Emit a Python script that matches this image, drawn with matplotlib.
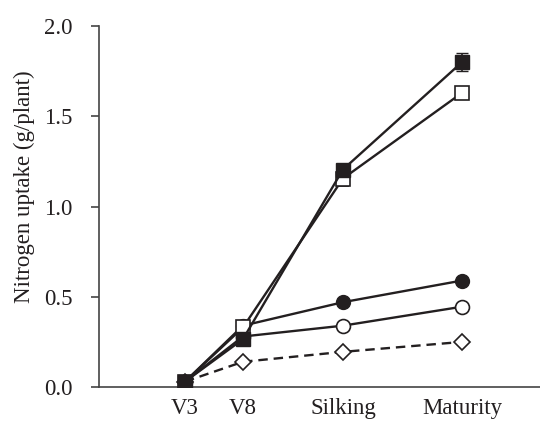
import numpy as np
import matplotlib.pyplot as plt

plt.rcParams['font.family'] = ['Liberation Serif', 'DejaVu Serif']

stages = ["V3", "V8", "Silking", "Maturity"]
days = [29.3, 49, 83, 123.5]

open_diamond = [0.03, 0.14, 0.195, 0.25]
open_circle = [0.03, 0.28, 0.34, 0.445]
filled_circle = [0.03, 0.34, 0.47, 0.59]
open_square = [0.03, 0.33, 1.155, 1.63]
open_square_err = [0.0, 0.0, 0.04, 0.0]
filled_square = [0.03, 0.265, 1.205, 1.80]
filled_square_err = [0.0, 0.0, 0.0, 0.05]

fig = plt.figure(figsize=(5.4, 4.23), dpi=100)
ax = fig.add_axes([0.183, 0.085, 0.817, 0.8535])

ink = '#231f20'
lw = 1.7
ax.plot(days, open_diamond, '--', color=ink, lw=lw, marker='D', ms=8,
        mfc='white', mec=ink, mew=1.2, dashes=(4, 2.5), zorder=2)
ax.plot(days, open_circle, '-', color=ink, lw=lw, marker='o', ms=10,
        mfc='white', mec=ink, mew=1.2, zorder=3)
ax.plot(days, filled_circle, '-', color=ink, lw=lw, marker='o', ms=10,
        mfc=ink, mec=ink, zorder=3)
ax.errorbar(days, open_square, yerr=open_square_err, fmt='-s', color=ink,
            lw=lw, ms=10, mfc='white', mec=ink, mew=1.2,
            ecolor=ink, elinewidth=1.2, capsize=4, zorder=4)
ax.errorbar(days, filled_square, yerr=filled_square_err, fmt='-s', color=ink,
            lw=lw, ms=10, mfc=ink, mec=ink,
            ecolor=ink, elinewidth=1.2, capsize=4, zorder=5)

ax.set_xlim(0, 150)
ax.set_ylim(0, 2.0)
ax.set_yticks([0.0, 0.5, 1.0, 1.5, 2.0])
ax.set_yticklabels(["0.0", "0.5", "1.0", "1.5", "2.0"], fontsize=16.5, color=ink)
ax.set_xticks(days)
ax.set_xticklabels(stages, fontsize=16.5, color=ink)
ax.tick_params(axis='x', length=0, pad=8)
ax.tick_params(axis='y', length=6, width=1.2, direction='out', pad=13, color='#444444')

for s in ['top', 'right']:
    ax.spines[s].set_visible(False)
ax.spines['left'].set_color('#444444')
ax.spines['bottom'].set_color('#444444')
ax.spines['left'].set_linewidth(1.2)
ax.spines['bottom'].set_linewidth(1.2)

ax.set_ylabel("Nitrogen uptake (g/plant)", fontsize=16.5, color=ink)
ax.yaxis.set_label_coords(-0.145, 0.555)

fig.savefig("out.png", dpi=100)
